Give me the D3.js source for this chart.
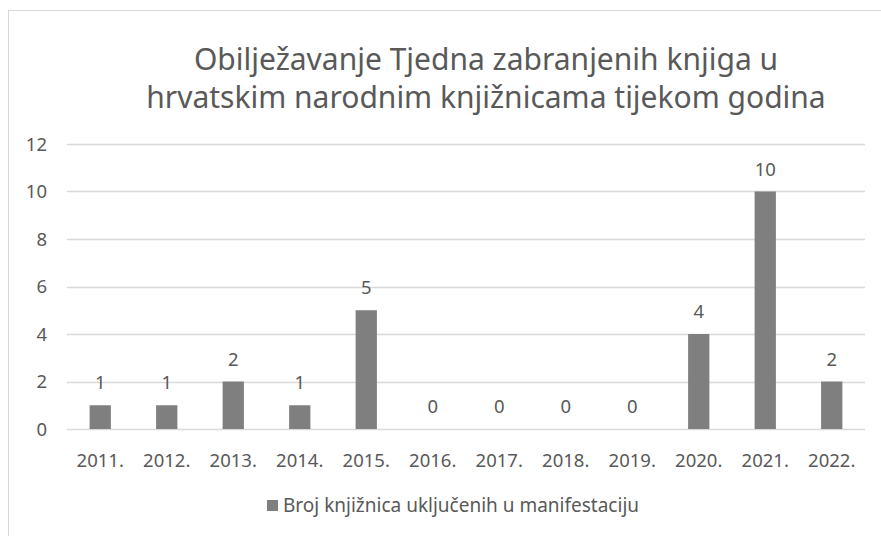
<!DOCTYPE html>
<html>
<head>
<meta charset="utf-8">
<script src="https://cdn.jsdelivr.net/npm/d3@7"></script>
<style>
  body { margin: 0; background: #fff; }
  svg text { font-family: "Noto Sans", sans-serif; fill: #595959; }
</style>
</head>
<body>
<svg></svg>
<script>
// podaci s grafikona
const years = ["2011.", "2012.", "2013.", "2014.", "2015.", "2016.", "2017.", "2018.", "2019.", "2020.", "2021.", "2022."];
const counts = [1, 1, 2, 1, 5, 0, 0, 0, 0, 4, 10, 2];
const yTicks = [0, 2, 4, 6, 8, 10, 12];
const titleLines = ["Obilježavanje Tjedna zabranjenih knjiga u", "hrvatskim narodnim knjižnicama tijekom godina"];
const seriesName = "Broj knjižnica uključenih u manifestaciju";

const width = 881, height = 536;
const svg = d3.select("svg")
    .attr("width", width)
    .attr("height", height);

// okvir grafikona
svg.append("rect")
    .attr("x", 8.5).attr("y", 10.5)
    .attr("width", width + 20).attr("height", height + 20)
    .attr("fill", "none")
    .attr("stroke", "#d9d9d9");

const margins = { top: 144, right: 16, bottom: 107, left: 67 };
const graphWidth = width - margins.left - margins.right;
const graphHeight = height - margins.top - margins.bottom;

const graphGroup = svg.append("g")
    .attr("transform", `translate(${margins.left}, ${margins.top})`);

// naslov
svg.append("text")
    .attr("x", 486)
    .attr("y", 70)
    .attr("text-anchor", "middle")
    .style("font-size", "30px")
    .selectAll("tspan")
    .data(titleLines)
    .join("tspan")
    .attr("x", 486)
    .attr("dy", (d, i) => i === 0 ? 0 : 38)
    .text(d => d);

const xScale = d3.scaleBand()
    .domain(years)
    .range([0, graphWidth]);

const yScale = d3.scaleLinear()
    .domain([0, 12])
    .range([graphHeight, 0]);

// mreža
graphGroup.selectAll("line.grid")
    .data(yTicks)
    .join("line")
    .attr("class", "grid")
    .attr("x1", 0).attr("x2", graphWidth)
    .attr("y1", d => Math.round(yScale(d)) + 0.5)
    .attr("y2", d => Math.round(yScale(d)) + 0.5)
    .attr("stroke", "#d9d9d9")
    .attr("stroke-width", 1.5);

// y os
const yAxis = d3.axisLeft(yScale).tickValues(yTicks).tickSize(0).tickPadding(20);
const yAxisGroup = graphGroup.append("g").call(yAxis);
yAxisGroup.select(".domain").remove();
yAxisGroup.selectAll("text").style("font-size", "18.5px").attr("dy", "0.35em");

// x os
const xAxis = d3.axisBottom(xScale).tickSize(0).tickPadding(32);
const xAxisGroup = graphGroup.append("g")
    .attr("transform", `translate(0, ${graphHeight})`)
    .call(xAxis);
xAxisGroup.select(".domain").remove();
xAxisGroup.selectAll("text").style("font-size", "18.5px").attr("dy", "0.35em");

// stupci
const barWidth = xScale.bandwidth() * 0.32;
graphGroup.selectAll("rect.bar")
    .data(counts)
    .join("rect")
    .attr("class", "bar")
    .attr("x", (d, i) => xScale(years[i]) + (xScale.bandwidth() - barWidth) / 2)
    .attr("y", d => yScale(d))
    .attr("width", barWidth)
    .attr("height", d => graphHeight - yScale(d))
    .attr("fill", "#7f7f7f");

// oznake vrijednosti
graphGroup.selectAll("text.label")
    .data(counts)
    .join("text")
    .attr("class", "label")
    .attr("x", (d, i) => xScale(years[i]) + xScale.bandwidth() / 2)
    .attr("y", d => yScale(d) - 16)
    .attr("text-anchor", "middle")
    .style("font-size", "18.5px")
    .text(d => d);

// legenda
const legend = svg.append("g").attr("transform", "translate(267, 500)");
legend.append("rect")
    .attr("width", 11).attr("height", 11)
    .attr("fill", "#7f7f7f");
legend.append("text")
    .attr("x", 16).attr("y", 12)
    .style("font-size", "19px")
    .text(seriesName);
</script>
</body>
</html>
